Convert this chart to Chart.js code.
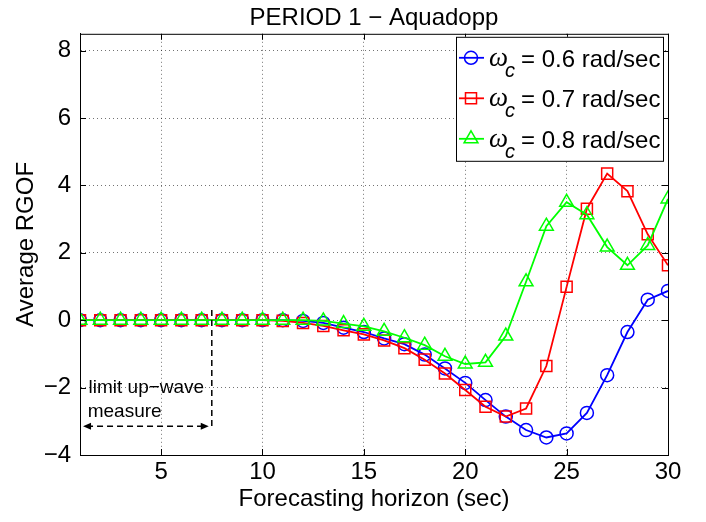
<!DOCTYPE html>
<html>
<head>
<meta charset="utf-8">
<script src="https://cdn.jsdelivr.net/npm/chart.js@4.4.1/dist/chart.umd.min.js"></script>
<style>
  html, body { margin: 0; padding: 0; background: #fff; }
  #wrap { width: 706px; height: 522px; }
</style>
</head>
<body>
<div id="wrap"><canvas id="chart"></canvas></div>
<script>
// forecasting horizon (sec)
const horizon = [1,2,3,4,5,6,7,8,9,10,11,12,13,14,15,16,17,18,19,20,21,22,23,24,25,26,27,28,29,30];

// average RGOF per cut-off frequency
const rgof06 = [0,0,0,0,0,0,0,0,0,0,0,-0.02,-0.08,-0.22,-0.35,-0.54,-0.71,-1.02,-1.43,-1.86,-2.37,-2.86,-3.26,-3.48,-3.36,-2.75,-1.63,-0.35,0.61,0.87];
const rgof07 = [0,0,0,0,0,0,0,0,0,0,-0.02,-0.08,-0.17,-0.3,-0.42,-0.6,-0.83,-1.17,-1.58,-2.07,-2.57,-2.86,-2.62,-1.36,0.99,3.31,4.35,3.83,2.55,1.63];
const rgof08 = [0,0,0,0,0,0,0,0,0,0,0,0,-0.02,-0.1,-0.18,-0.33,-0.52,-0.74,-1.07,-1.3,-1.25,-0.47,1.14,2.79,3.5,3.13,2.17,1.63,2.22,3.6];

const omegaValues = ['0.6', '0.7', '0.8'];
const xTicks = [5, 10, 15, 20, 25, 30];
const yTicks = [-4, -2, 0, 2, 4, 6, 8];

const toPoints = (ys) => ys.map((y, i) => ({ x: horizon[i], y }));

Chart.defaults.font.family = '"Liberation Sans", Arial, sans-serif';
Chart.defaults.color = '#000';

function series(values, omega, color, style, radius, order) {
    return {
        label: 'ω_c = ' + omega + ' rad/sec',
        omega: omega,
        data: toPoints(values),
        borderColor: color,
        backgroundColor: 'rgba(0,0,0,0)',
        borderWidth: 1.8,
        pointStyle: style,
        pointRadius: radius,
        pointHoverRadius: radius,
        pointBorderWidth: 1.5,
        pointBorderColor: color,
        pointBackgroundColor: 'rgba(0,0,0,0)',
        tension: 0,
        order: order
    };
}

// matlab-like box, inward ticks, the annotation and the legend
const matlabBox = {
    id: 'matlabBox',
    afterDraw(chart) {
        const { ctx, chartArea: a, scales } = chart;
        const xs = (v) => scales.x.getPixelForValue(v);
        const ys = (v) => scales.y.getPixelForValue(v);

        ctx.save();
        ctx.strokeStyle = '#000';
        ctx.lineWidth = 1;
        ctx.setLineDash([]);
        ctx.strokeRect(a.left + 0.5, a.top + 0.5, a.right - a.left, a.bottom - a.top);
        ctx.beginPath();
        xTicks.forEach(v => {
            const x = Math.round(xs(v)) + 0.5;
            ctx.moveTo(x, a.bottom); ctx.lineTo(x, a.bottom - 6);
            ctx.moveTo(x, a.top); ctx.lineTo(x, a.top + 6);
        });
        yTicks.forEach(v => {
            const y = Math.round(ys(v)) + 0.5;
            ctx.moveTo(a.left, y); ctx.lineTo(a.left + 6, y);
            ctx.moveTo(a.right, y); ctx.lineTo(a.right - 6, y);
        });
        ctx.stroke();

        // limit up-wave measure
        ctx.lineWidth = 1.5;
        ctx.setLineDash([6, 4]);
        ctx.beginPath();
        ctx.moveTo(xs(7.5), ys(0.3));
        ctx.lineTo(xs(7.5), ys(-3.25));
        const ay = ys(-3.15);
        const ax0 = xs(1.15), ax1 = xs(7.35);
        ctx.moveTo(ax0 + 4, ay);
        ctx.lineTo(ax1 - 4, ay);
        ctx.stroke();
        ctx.setLineDash([]);
        ctx.fillStyle = '#000';
        ctx.beginPath();
        ctx.moveTo(ax0, ay); ctx.lineTo(ax0 + 8, ay - 3.5); ctx.lineTo(ax0 + 8, ay + 3.5); ctx.closePath();
        ctx.moveTo(ax1, ay); ctx.lineTo(ax1 - 8, ay - 3.5); ctx.lineTo(ax1 - 8, ay + 3.5); ctx.closePath();
        ctx.fill();

        ctx.font = '19px "Liberation Sans", Arial, sans-serif';
        ctx.textAlign = 'left';
        ctx.textBaseline = 'middle';
        ctx.fillText('limit up−wave', xs(1.42), ys(-2.0));
        ctx.fillText('measure', xs(1.38), ys(-2.72));

        // legend
        const lw = 207, lh = 124;
        const lx = a.right - 5 - lw, ly = a.top + 3;
        ctx.fillStyle = '#fff';
        ctx.fillRect(lx, ly, lw, lh);
        ctx.strokeStyle = '#000';
        ctx.lineWidth = 1;
        ctx.strokeRect(lx + 0.5, ly + 0.5, lw, lh);

        chart.data.datasets.forEach((ds, i) => {
            const cy = ly + 21 + i * 40.5;
            ctx.strokeStyle = ds.borderColor;
            ctx.lineWidth = 1.8;
            ctx.beginPath();
            ctx.moveTo(lx + 3, cy);
            ctx.lineTo(lx + 28, cy);
            ctx.stroke();
            ctx.lineWidth = 1.5;
            ctx.fillStyle = 'rgba(0,0,0,0)';
            Chart.helpers.drawPoint(ctx, {
                pointStyle: ds.pointStyle, radius: ds.pointRadius, rotation: 0, borderWidth: 1.5
            }, lx + 15, cy);

            ctx.fillStyle = '#000';
            ctx.textAlign = 'left';
            ctx.textBaseline = 'alphabetic';
            ctx.font = 'italic 27px "Liberation Serif", "DejaVu Serif", serif';
            ctx.fillText('ω', lx + 33, cy + 8);
            ctx.font = 'italic 20px "Liberation Sans", Arial, sans-serif';
            ctx.fillText('c', lx + 49, cy + 19);
            ctx.font = '24px "Liberation Sans", Arial, sans-serif';
            ctx.fillText('= ' + ds.omega + ' rad/sec', lx + 65, cy + 9);
        });
        ctx.restore();
    }
};

const minusSign = (v) => String(v).replace('-', '−');

new Chart(document.getElementById('chart'), {
    type: 'line',
    data: {
        datasets: [
            series(rgof06, omegaValues[0], '#0000ff', 'circle', 6.5, 2),
            series(rgof07, omegaValues[1], '#ff0000', 'rect', 7.8, 1),
            series(rgof08, omegaValues[2], '#00ff00', 'triangle', 8, 0)
        ]
    },
    options: {
        responsive: true,
        maintainAspectRatio: false,
        animation: false,
        events: [],
        layout: { padding: { left: 0, right: 38, top: 0, bottom: 0 } },
        plugins: {
            legend: { display: false },
            tooltip: { enabled: false },
            title: {
                display: true,
                fullSize: false,
                text: 'PERIOD 1 − Aquadopp',
                font: { size: 24, weight: 'normal' },
                color: '#000',
                padding: { top: 4, bottom: 1 }
            }
        },
        scales: {
            x: {
                type: 'linear',
                min: 1,
                max: 30,
                afterBuildTicks: (s) => { s.ticks = xTicks.map(v => ({ value: v })); },
                afterFit: (s) => { s.height = 67; },
                grid: { color: 'rgba(0,0,0,0.55)', lineWidth: 1, drawTicks: false },
                border: { display: true, color: '#000', width: 1, dash: [1, 3] },
                ticks: { font: { size: 24 }, padding: 3, maxRotation: 0, callback: minusSign },
                title: {
                    display: true,
                    text: 'Forecasting horizon (sec)',
                    font: { size: 24 },
                    padding: { top: 0, bottom: 8 }
                }
            },
            y: {
                type: 'linear',
                min: -4,
                max: 8.5,
                afterBuildTicks: (s) => { s.ticks = yTicks.map(v => ({ value: v })); },
                afterFit: (s) => { s.width = 80; },
                grid: { color: 'rgba(0,0,0,0.55)', lineWidth: 1, drawTicks: false },
                border: { display: true, color: '#000', width: 1, dash: [1, 3] },
                ticks: { font: { size: 24 }, padding: 9, callback: minusSign },
                title: {
                    display: true,
                    text: 'Average RGOF',
                    font: { size: 24 },
                    padding: { top: 12, bottom: 0 }
                }
            }
        }
    },
    plugins: [matlabBox]
});
</script>
</body>
</html>
